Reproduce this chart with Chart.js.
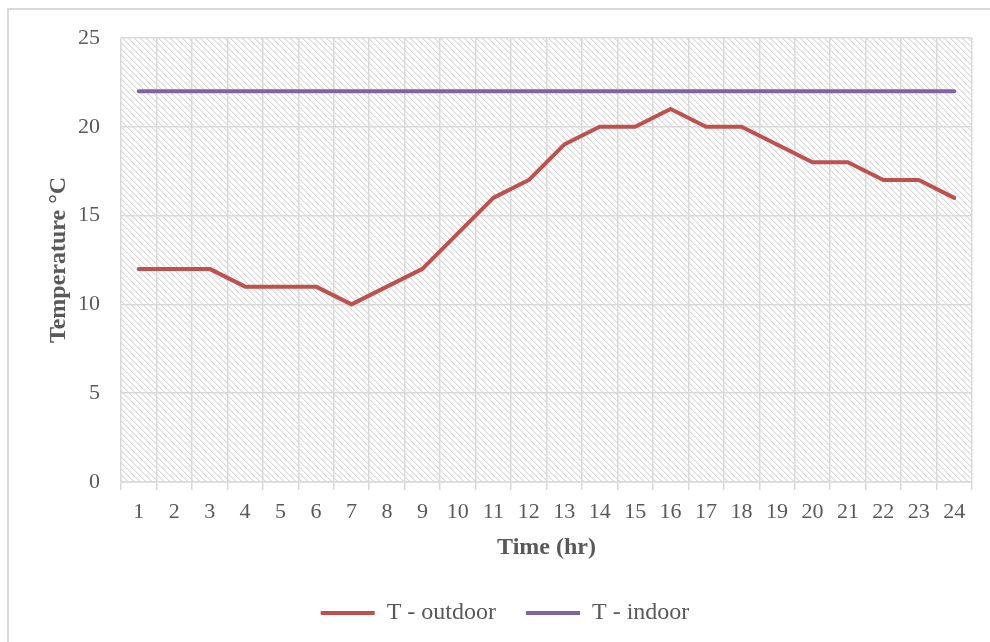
<!DOCTYPE html>
<html>
<head>
<meta charset="utf-8">
<script src="https://cdn.jsdelivr.net/npm/chart.js@4"></script>
<style>
  body { margin: 0; background: #fff; }
  #frame { position: absolute; left: 7px; top: 8px; width: 1000px; height: 700px; border: 2px solid #d9d9d9; }
  #wrap { position: absolute; left: 0; top: 0; width: 990px; height: 642px; }
</style>
</head>
<body>
<div id="frame"></div>
<div id="wrap"><canvas id="myChart" width="990" height="642"></canvas></div>
<script>
const hours = ['1','2','3','4','5','6','7','8','9','10','11','12','13','14','15','16','17','18','19','20','21','22','23','24']
const tOutdoor = [12,12,12,11,11,11,10,11,12,14,16,17,19,20,20,21,20,20,19,18,18,17,17,16]
const tIndoor = [22,22,22,22,22,22,22,22,22,22,22,22,22,22,22,22,22,22,22,22,22,22,22,22]
const yTicks = [0,5,10,15,20,25]

// hatched background of the plot area, pixel by pixel
function makeHatch() {
  let c = document.createElement('canvas')
  c.width = 6
  c.height = 6
  let p = c.getContext('2d')
  for (let i = 0; i < 6; i++) {
    p.fillStyle = '#d9d9d9'
    p.fillRect(i, i, 1, 1)
    p.fillStyle = '#eeeeee'
    p.fillRect((i + 1) % 6, i, 1, 1)
  }
  return c
}

const hatch = {
  id: 'hatch',
  beforeDraw(chart) {
    let a = chart.chartArea
    let ctx = chart.ctx
    ctx.save()
    ctx.fillStyle = ctx.createPattern(makeHatch(), 'repeat')
    ctx.fillRect(a.left, a.top, a.right - a.left, a.bottom - a.top)
    ctx.restore()
  }
}

const ctx = document.getElementById('myChart')
const font = 'Liberation Serif'
const grey = '#595959'

new Chart(ctx, {
  type: 'line',
  data: {
    labels: hours,
    datasets: [{
      label: 'T - outdoor',
      data: tOutdoor,
      borderColor: '#c0504d',
      backgroundColor: '#c0504d',
      borderWidth: 4,
      borderCapStyle: 'round',
      borderJoinStyle: 'round',
      pointRadius: 0,
      tension: 0
    }, {
      label: 'T - indoor',
      data: tIndoor,
      borderColor: '#8064a2',
      backgroundColor: '#8064a2',
      borderWidth: 4,
      borderCapStyle: 'round',
      pointRadius: 0,
      tension: 0
    }]
  },
  options: {
    responsive: false,
    animation: false,
    layout: { padding: { left: 38, top: 38, right: 18, bottom: 7 } },
    plugins: {
      tooltip: { enabled: false },
      legend: {
        position: 'bottom',
        labels: {
          usePointStyle: true,
          pointStyle: 'line',
          pointStyleWidth: 54,
          padding: 30,
          color: grey,
          font: { family: font, size: 24 }
        }
      }
    },
    scales: {
      x: {
        offset: true,
        grid: { color: '#d9d9d9', lineWidth: 1.5, offset: true, tickLength: 8 },
        border: { color: '#d9d9d9', width: 1.5 },
        ticks: { color: grey, padding: 9, maxRotation: 0, font: { family: font, size: 22 } },
        title: { display: true, text: 'Time (hr)', color: grey, padding: { top: 4, bottom: 9 }, font: { family: font, size: 24, weight: 'bold' } },
        afterFit(scale) { scale.height = 89 }
      },
      y: {
        min: 0,
        max: 25,
        afterBuildTicks(scale) { scale.ticks = yTicks.map(v => ({ value: v })) },
        grid: { color: '#d9d9d9', lineWidth: 1.5, drawTicks: false },
        border: { display: false },
        ticks: { color: grey, padding: 21, font: { family: font, size: 22 } },
        title: { display: true, text: 'Temperature °C', color: grey, padding: { top: 6, bottom: 0 }, font: { family: font, size: 24, weight: 'bold' } },
        afterFit(scale) { scale.width = 83 }
      }
    }
  },
  plugins: [hatch]
})
</script>
</body>
</html>
